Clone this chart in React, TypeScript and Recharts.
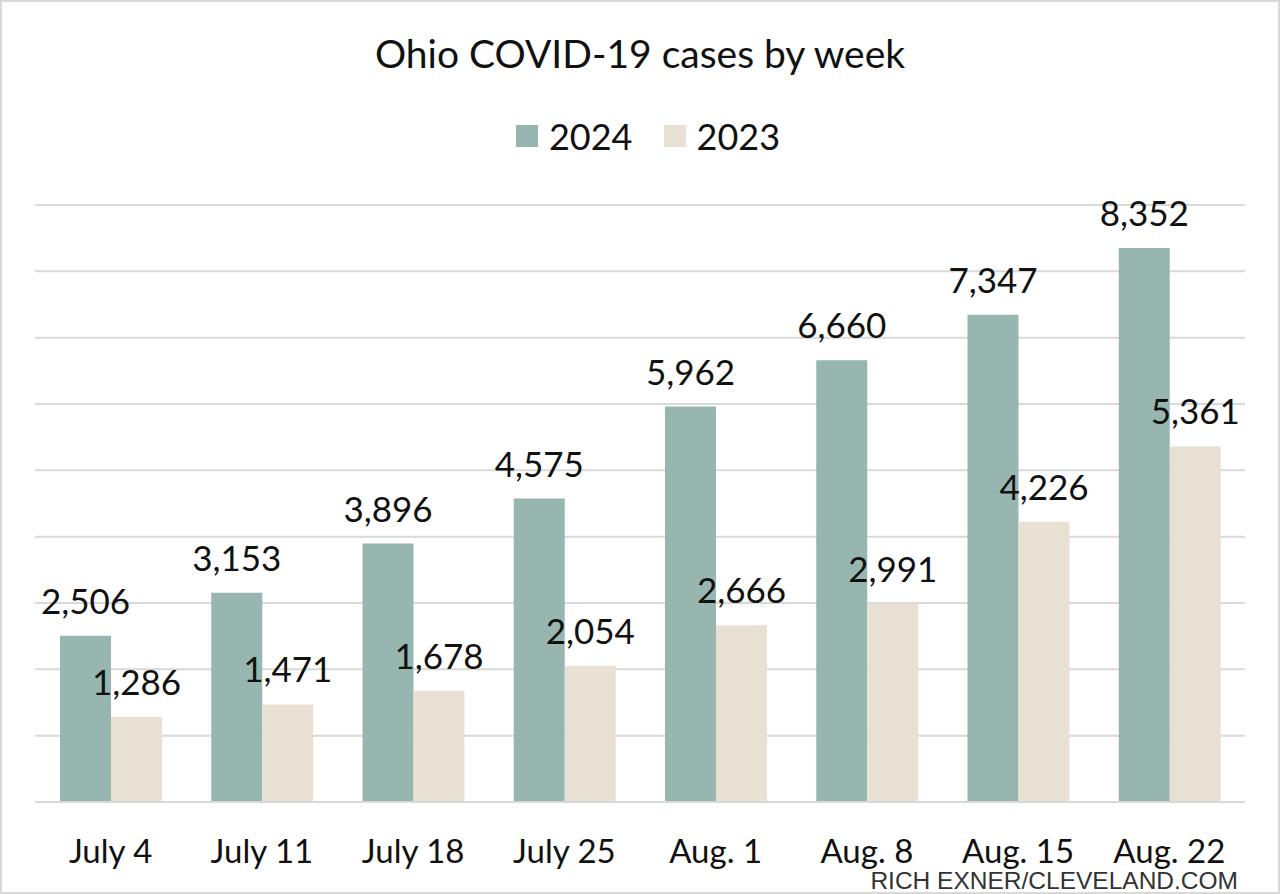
import { BarChart, Bar, XAxis, YAxis, CartesianGrid, LabelList } from 'recharts';

const weeks = ['July 4', 'July 11', 'July 18', 'July 25', 'Aug. 1', 'Aug. 8', 'Aug. 15', 'Aug. 22'];
const cases2024 = [2506, 3153, 3896, 4575, 5962, 6660, 7347, 8352];
const cases2023 = [1286, 1471, 1678, 2054, 2666, 2991, 4226, 5361];
const yTicks = [0, 1000, 2000, 3000, 4000, 5000, 6000, 7000, 8000, 9000];

const data = weeks.map((week, i) => ({ week, y2024: cases2024[i], y2023: cases2023[i] }));

const TEAL = '#98B6B0';
const BEIGE = '#E8E1D3';
const FONT = 'Lato, "Open Sans", sans-serif';

const fmt = (v: any) => Number(v).toLocaleString('en-US');

export default function App() {
  return (
    <div
      style={{
        position: 'absolute',
        left: 0,
        top: 0,
        width: 1280,
        height: 894,
        background: '#fff',
        boxSizing: 'border-box',
        border: '2px solid #D9D9D9',
        fontFamily: FONT,
        overflow: 'hidden',
      }}
    >
      <div
        style={{
          position: 'absolute',
          top: 28,
          left: 0,
          width: 1276,
          textAlign: 'center',
          fontSize: 39,
          lineHeight: '46px',
          color: '#111',
        }}
      >
        Ohio COVID-19 cases by week
      </div>

      <div
        style={{
          position: 'absolute',
          top: 112,
          left: 8,
          width: 1276,
          display: 'flex',
          justifyContent: 'center',
          alignItems: 'center',
          fontSize: 36,
          lineHeight: '44px',
          color: '#111',
        }}
      >
        <span style={{ width: 22, height: 22, background: TEAL, display: 'inline-block', marginRight: 11 }} />
        <span style={{ marginRight: 31 }}>2024</span>
        <span style={{ width: 22, height: 22, background: BEIGE, display: 'inline-block', marginRight: 11 }} />
        <span>2023</span>
      </div>

      <div style={{ position: 'absolute', left: -2, top: -2 }}>
        <BarChart
          width={1280}
          height={894}
          data={data}
          margin={{ top: 205, right: 35, bottom: 32, left: 35 }}
          barGap={0}
          barSize={51}
        >
          <CartesianGrid vertical={false} stroke="#D9D9D9" strokeWidth={2} />
          <YAxis hide domain={[0, 9000]} ticks={yTicks} />
          <XAxis
            dataKey="week"
            height={60}
            axisLine={{ stroke: '#D9D9D9', strokeWidth: 2 }}
            tickLine={false}
            tick={{ fill: '#111', fontSize: 33, fontFamily: FONT }}
            tickMargin={32}
            interval={0}
          />
          <Bar dataKey="y2024" fill={TEAL} isAnimationActive={false}>
            <LabelList
              dataKey="y2024"
              position="top"
              offset={22}
              formatter={fmt}
              style={{ fill: '#111', fontSize: 35, fontFamily: FONT }}
            />
          </Bar>
          <Bar dataKey="y2023" fill={BEIGE} isAnimationActive={false}>
            <LabelList
              dataKey="y2023"
              position="top"
              offset={22}
              formatter={fmt}
              style={{ fill: '#111', fontSize: 35, fontFamily: FONT }}
            />
          </Bar>
        </BarChart>
      </div>

      <div
        style={{
          position: 'absolute',
          right: 40,
          top: 866,
          fontFamily: '"Liberation Sans", Arial, sans-serif',
          fontSize: 24.5,
          lineHeight: '26px',
          color: '#333',
        }}
      >
        RICH EXNER/CLEVELAND.COM
      </div>
    </div>
  );
}
